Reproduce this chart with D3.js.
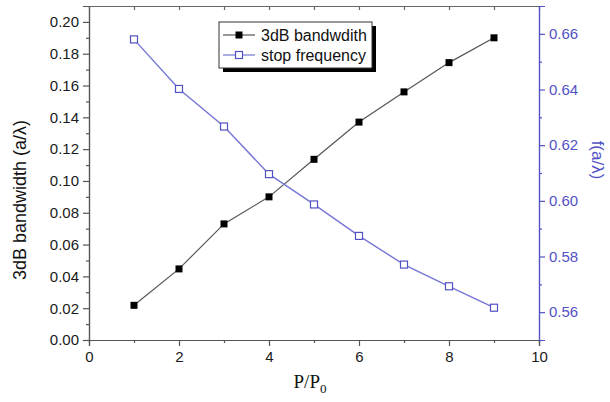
<!DOCTYPE html>
<html>
<head>
<meta charset="utf-8">
<script src="https://cdn.jsdelivr.net/npm/d3@7"></script>
<style>
  body { margin: 0; background: #fff; }
  svg { display: block; }
</style>
</head>
<body>
<svg id="chart"></svg>
<script>
// values
const ratio = [1, 2, 3, 4, 5, 6, 7, 8, 9];
const bandwidth = [0.0218, 0.0447, 0.073, 0.090, 0.1136, 0.137, 0.156, 0.1744, 0.190];
const stopFreq = [0.658, 0.6402, 0.6267, 0.6096, 0.5987, 0.5874, 0.5771, 0.5693, 0.5616];

const xMajor = [0, 2, 4, 6, 8, 10];
const xMinor = [1, 3, 5, 7, 9];
const xTop = [1, 2, 3, 4, 5, 6, 7, 8, 9];
const leftMajor = [0, 0.02, 0.04, 0.06, 0.08, 0.1, 0.12, 0.14, 0.16, 0.18, 0.2];
const leftMinor = [0.01, 0.03, 0.05, 0.07, 0.09, 0.11, 0.13, 0.15, 0.17, 0.19];
const rightMajor = [0.56, 0.58, 0.6, 0.62, 0.64, 0.66];
const rightMinor = [0.55, 0.57, 0.59, 0.61, 0.63, 0.65];
const seriesNames = ["3dB bandwdith", "stop frequency"];

const W = 610, H = 402;
const margin = { top: 6, right: 71, bottom: 62, left: 89 };
const width = W - margin.left - margin.right;
const height = H - margin.top - margin.bottom;

const blue = "#5252c4";
const lineBlue = "#7676d6";
const tickColor = "#1a1a1a";
const sans = "'Liberation Sans', Arial, sans-serif";

const svg = d3.select("#chart").attr("width", W).attr("height", H);
const g = svg.append("g").attr("transform", `translate(${margin.left},${margin.top})`);

const x = d3.scaleLinear().domain([0, 10]).range([0, width]);
const yL = d3.scaleLinear().domain([0, 0.21]).range([height, 0]);
const yR = d3.scaleLinear().domain([0.55, 0.67]).range([height, 0]);

function styleAxis(sel, color, textColor) {
  sel.selectAll("path, line").attr("stroke", color).attr("stroke-width", 1.2);
  sel.selectAll("text")
    .attr("fill", textColor)
    .style("font-family", sans)
    .style("font-size", "15px");
}

// left axis
g.append("g").call(d3.axisLeft(yL).tickValues(leftMinor).tickSize(3).tickFormat(""))
  .call(styleAxis, "#555", tickColor);
g.append("g").call(d3.axisLeft(yL).tickValues(leftMajor).tickSize(6).tickPadding(4).tickFormat(d3.format(".2f")))
  .call(styleAxis, "#555", tickColor);

// bottom axis
g.append("g").attr("transform", `translate(0,${height})`)
  .call(d3.axisBottom(x).tickValues(xMinor).tickSize(3).tickFormat(""))
  .call(styleAxis, "#555", tickColor);
g.append("g").attr("transform", `translate(0,${height})`)
  .call(d3.axisBottom(x).tickValues(xMajor).tickSize(6).tickPadding(5).tickFormat(d3.format("d")))
  .call(styleAxis, "#555", tickColor);

// top frame with inward ticks
g.append("g")
  .call(d3.axisTop(x).tickValues(xTop).tickSize(-4).tickFormat(""))
  .call(styleAxis, "#666", tickColor);

// right axis
g.append("g").attr("transform", `translate(${width},0)`)
  .call(d3.axisRight(yR).tickValues(rightMinor).tickSize(3).tickFormat(""))
  .call(styleAxis, blue, blue);
g.append("g").attr("transform", `translate(${width},0)`)
  .call(d3.axisRight(yR).tickValues(rightMajor).tickSize(6).tickPadding(4).tickFormat(d3.format(".2f")))
  .call(styleAxis, blue, blue);

// axis titles
svg.append("text")
  .attr("transform", `translate(26,200) rotate(-90)`)
  .attr("text-anchor", "middle")
  .style("font-family", sans)
  .style("font-size", "18px")
  .attr("fill", "#111")
  .text("3dB bandwidth (a/λ)");

svg.append("text")
  .attr("transform", `translate(592,160) rotate(90)`)
  .attr("text-anchor", "middle")
  .style("font-family", sans)
  .style("font-size", "17px")
  .attr("fill", blue)
  .text("f(a/λ)");

const xt = svg.append("text")
  .attr("x", margin.left + x(5) - 4)
  .attr("y", 388)
  .attr("text-anchor", "middle")
  .style("font-family", "'Liberation Serif', 'Times New Roman', serif")
  .style("font-size", "19px")
  .attr("fill", "#111");
xt.append("tspan").text("P/P");
xt.append("tspan").attr("dy", 5).style("font-size", "13px").text("0");

// series
const bwData = ratio.map((r, i) => ({ x: r, y: bandwidth[i] }));
const sfData = ratio.map((r, i) => ({ x: r, y: stopFreq[i] }));

g.append("path").datum(bwData)
  .attr("fill", "none").attr("stroke", "#555").attr("stroke-width", 1.2)
  .attr("d", d3.line().x(d => x(d.x)).y(d => yL(d.y)));
g.append("path").datum(sfData)
  .attr("fill", "none").attr("stroke", lineBlue).attr("stroke-width", 1.4)
  .attr("d", d3.line().x(d => x(d.x)).y(d => yR(d.y)));

const ms = 7;
g.selectAll(".bw").data(bwData).join("rect").attr("class", "bw")
  .attr("x", d => x(d.x) - ms / 2).attr("y", d => yL(d.y) - ms / 2)
  .attr("width", ms).attr("height", ms).attr("fill", "#000");
g.selectAll(".sf").data(sfData).join("rect").attr("class", "sf")
  .attr("x", d => x(d.x) - ms / 2).attr("y", d => yR(d.y) - ms / 2)
  .attr("width", ms).attr("height", ms)
  .attr("fill", "#fff").attr("stroke", blue).attr("stroke-width", 1.2);

// legend
const lg = svg.append("g").attr("transform", "translate(219,22)");
lg.append("rect").attr("x", 4).attr("y", 4).attr("width", 153).attr("height", 46).attr("fill", "#000");
lg.append("rect").attr("width", 153).attr("height", 46).attr("fill", "#fff").attr("stroke", "#333").attr("stroke-width", 1);
seriesNames.forEach((name, i) => {
  const yy = 13 + i * 20;
  const col = i === 0 ? "#555" : lineBlue;
  lg.append("line").attr("x1", 4).attr("x2", 36).attr("y1", yy).attr("y2", yy)
    .attr("stroke", col).attr("stroke-width", 1.2);
  lg.append("rect").attr("x", 20 - ms / 2).attr("y", yy - ms / 2).attr("width", ms).attr("height", ms)
    .attr("fill", i === 0 ? "#000" : "#fff")
    .attr("stroke", i === 0 ? "none" : blue).attr("stroke-width", 1.2);
  lg.append("text").attr("x", 42).attr("y", yy + 6)
    .style("font-family", sans)
    .style("font-size", "16px").attr("fill", "#111")
    .text(name);
});
</script>
</body>
</html>
